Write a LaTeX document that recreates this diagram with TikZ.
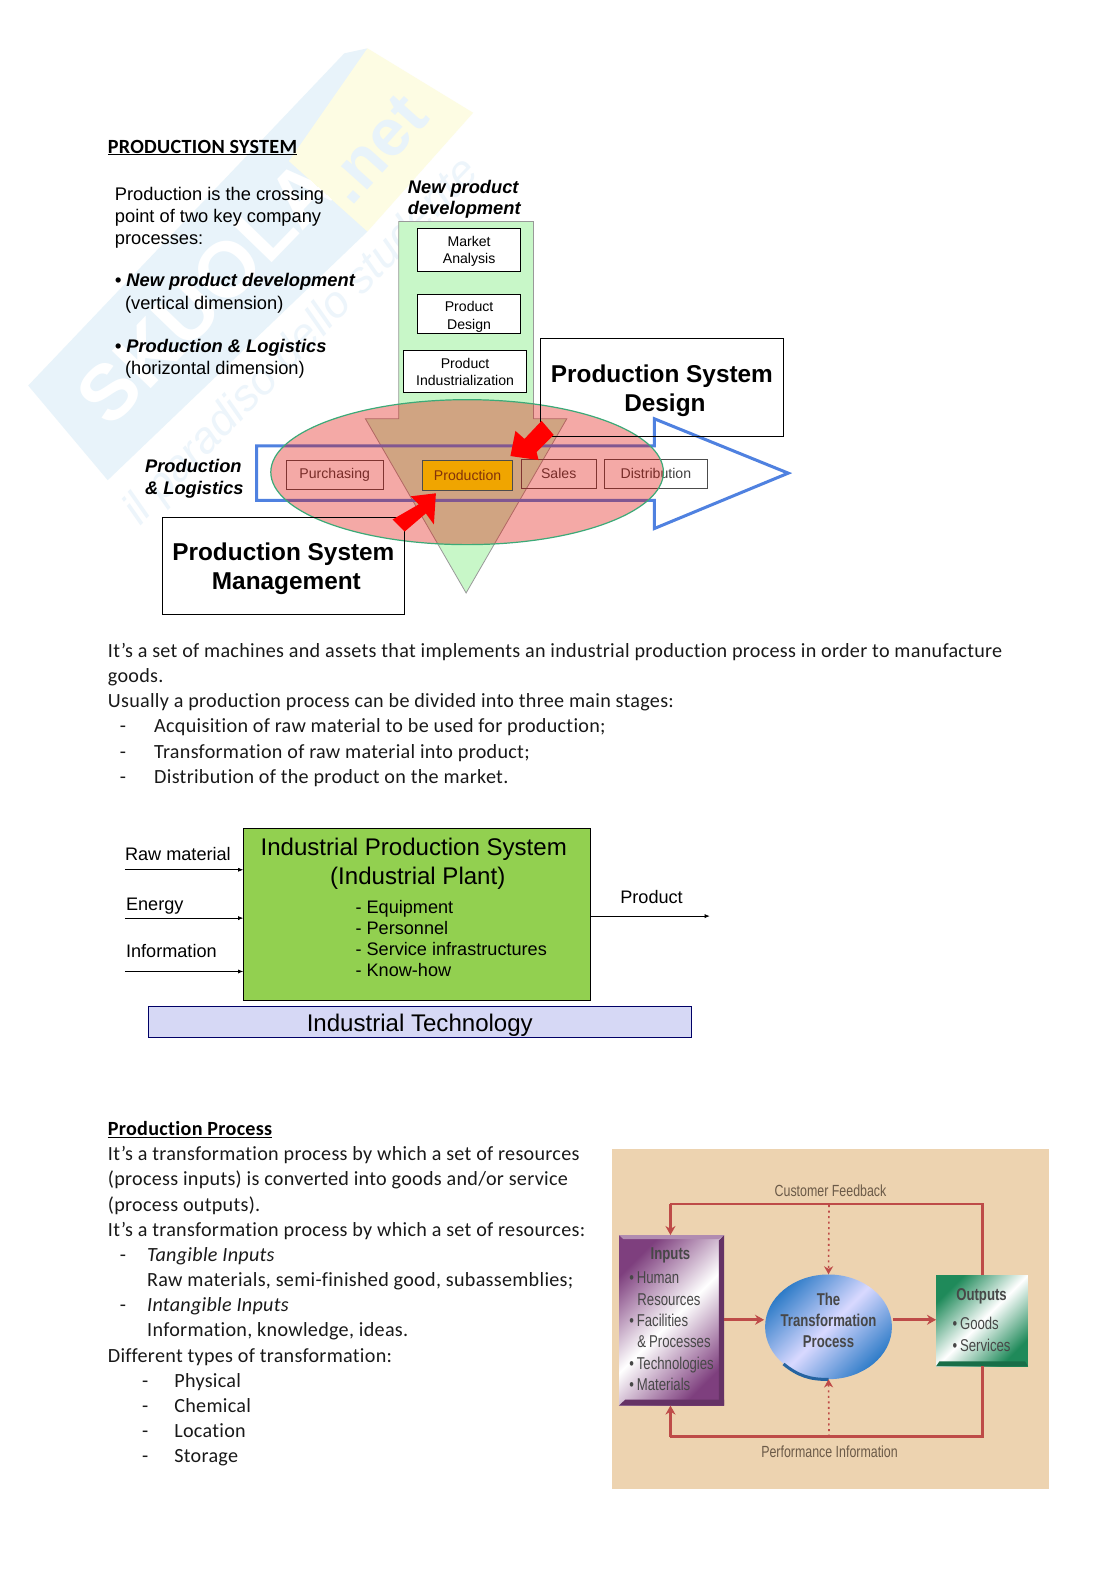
\documentclass[tikz,border=0pt]{standalone}
\usepackage{fontspec}
\setmainfont{Liberation Sans}
\newfontfamily\bodyf[LetterSpace=1.45,Ligatures=NoCommon]{Carlito}
\newfontfamily\figf[FakeStretch=.77]{Liberation Sans}
\usetikzlibrary{arrows.meta,shadings,shapes.geometric}
\definecolor{wmblue}{HTML}{E8F3FA}
\definecolor{wmyellow}{HTML}{FDFCE3}
\definecolor{greenarrow}{HTML}{C8F7C8}
\definecolor{arrowblue}{HTML}{4F81E0}
\definecolor{plantgreen}{HTML}{92D050}
\definecolor{techblue}{HTML}{D6D8F5}
\definecolor{beige}{HTML}{EDD3B0}
\definecolor{fbred}{HTML}{BE4B48}
\definecolor{fbtext}{HTML}{6B5A48}
\definecolor{inpurple}{HTML}{7E3F7E}
\definecolor{outgreen}{HTML}{1F8A5A}
\definecolor{tpblue}{HTML}{2F7CC8}
\tikzset{
 x=1pt,y=-1pt,
 body/.style={anchor=base west,inner sep=0pt,font=\bodyf\fontsize{20}{20}\selectfont,text=black!90},
 sans/.style={anchor=base west,inner sep=0pt,font=\fontsize{18.15}{18.15}\selectfont},
 ibold/.style={anchor=base west,inner sep=0pt,font=\fontsize{18.15}{18.15}\selectfont\bfseries\itshape},
 smallbox/.style={draw=black,line width=1pt,fill=white,inner sep=0pt},
 smalltext/.style={align=center,inner sep=0pt,font=\fontsize{14}{17}\selectfont},
 pbox/.style={draw=black!70,line width=.8pt,inner sep=0pt,text=black!75,font=\fontsize{14}{17}\selectfont},
 bigbox/.style={draw=black,line width=.8pt,inner sep=0pt},
 bigtext/.style={inner sep=0pt,align=center,font=\fontsize{24.2}{29}\selectfont\bfseries},
 plantlbl/.style={anchor=base west,inner sep=0pt,font=\fontsize{18}{18}\selectfont},
 inarrow/.style={draw=black,line width=.7pt,-{Latex[length=5pt,width=4pt]}},
 fb/.style={draw=fbred,line width=2.6pt},
 fbarrow/.style={fb,-{Stealth[length=9pt,width=10pt]}},
 fbdot/.style={draw=fbred,line width=1.6pt,dash pattern=on 2pt off 3.5pt,-{Stealth[length=8pt,width=9pt]}},
 fig/.style={inner sep=0pt,text=black!70,align=left},
 figlbl/.style={anchor=base west,inner sep=0pt,text=black!72,font=\figf\fontsize{17}{17}\selectfont},
 wmtext/.style={inner sep=0pt,text=white,font=\fontsize{78}{78}\selectfont\bfseries},
}
\begin{document}
\begin{tikzpicture}
\useasboundingbox (0,0) rectangle (1108.6,1568.5);
\fill[white] (0,0) rectangle (1108.6,1568.5);
% watermark
\fill[wmblue] (28,383) -- (342,53) -- (365,48) -- (365,230) -- (107,477) -- cycle;
\fill[wmyellow] (365,48) -- (470,112) -- (365,230) -- (287,160) -- cycle;
\begin{scope}
\clip (28,383) -- (342,53) -- (365,48) -- (287,160) -- (365,230) -- (107,477) -- cycle;
\node[wmtext,rotate=46] (wm1) at (205,290) {SKUOLA};
\end{scope}
\node[inner sep=0pt,text=wmblue,font=\fontsize{66}{66}\selectfont\bfseries,rotate=48] (wm2) at (373,148) {.net};
\node[inner sep=0pt,text=wmblue!80,font=\fontsize{44}{44}\selectfont\itshape,rotate=46] (wm3) at (300,340) {il paradiso dello studente};
% page title
\node[anchor=base west,inner sep=0pt,font=\bodyf\fontsize{20}{20}\selectfont\bfseries] (title) at (107,152) {\underline{PRODUCTION SYSTEM}};
% left text
\node[sans] (t1) at (114,199) {Production is the crossing};
\node[sans] (t2) at (114,221) {point of two key company};
\node[sans] (t3) at (114,243) {processes:};
\node[ibold] (t4) at (114,285) {\textbullet\ New product development};
\node[sans] (t5) at (124,307) {(vertical dimension)};
\node[ibold] (t6) at (114,350) {\textbullet\ Production \& Logistics};
\node[sans] (t7) at (124,372) {(horizontal dimension)};
\node[ibold] (npd1) at (405,192) {New product};
\node[ibold] (npd2) at (405,213) {development};
\node[ibold] (pl1) at (144,469) {Production};
\node[ibold] (pl2) at (144,491) {\& Logistics};
% green arrow
\fill[greenarrow] (396,220) -- (530,220) -- (530,416) -- (563,416) -- (463,589) -- (363,416) -- (396,416) -- cycle;
\draw[black!40,line width=.8pt] (396,416) -- (396,220) -- (530,220) -- (530,416) -- (563,416) -- (463,589) -- (363,416) -- cycle;
% boxes
\node[smallbox,minimum width=102pt,minimum height=43pt] (ma) at (466,248.5) {};
\node[smallbox,minimum width=102pt,minimum height=38pt] (pd) at (466,312) {};
\node[smallbox,minimum width=122pt,minimum height=42pt] (pi) at (462,369) {};
\node[smalltext] (mat) at (466,250) {Market\\Analysis};
\node[smalltext,font=\fontsize{14}{18}\selectfont] (pdt) at (466,315) {Product\\Design};
\node[smalltext] (pit) at (462,369.5) {Product\\Industrialization};
\node[pbox,minimum width=97pt,minimum height=29pt] (purch) at (332.5,471.5) {Purchasing};
\node[pbox,minimum width=74pt,minimum height=29pt] (sales) at (555,470.5) {Sales};
\node[pbox,minimum width=103pt,minimum height=29pt] (dist) at (651.5,470.5) {Distribution};
% blue arrow
\draw[arrowblue,line width=3pt,line join=miter] (650,443) -- (255,443) -- (255,497) -- (650,497) -- (650,525) -- (783,470) -- (650,416) -- cycle;
% ellipse
\path[fill={rgb,255:red,225;green,10;blue,0},fill opacity=.35,draw={rgb,255:red,60;green,170;blue,120},line width=1.2pt] (464,469) ellipse [x radius=195,y radius=72];
\node[pbox,fill={rgb,255:red,240;green,165;blue,0},text={rgb,255:red,130;green,50;blue,10},minimum width=89pt,minimum height=30pt] (prod) at (464.5,472) {Production};
% big boxes
\node[bigbox,minimum width=241pt,minimum height=97pt] (psd) at (657.5,384.5) {};
\node[bigbox,minimum width=241pt,minimum height=96pt] (psm) at (281.5,562) {};
\node[bigtext] (psdt) at (657.5,388) {Production System\\\hspace*{6pt}Design};
\node[bigtext] (psmt) at (281.5,565) {Production System\\\hspace*{6pt}Management};
% red arrows
\fill[red] (507,453) -- (512,428) -- (521,436) -- (538,418) -- (550,432) -- (533,449) -- (535,457) -- cycle;
\fill[red] (433,490) -- (408,493) -- (416,501) -- (390,516) -- (402,528) -- (423,510) -- (431,521) -- cycle;
% paragraph
\node[body] (p1) at (107,653) {It’s a set of machines and assets that implements an industrial production process in order to manufacture};
\node[body] (p2) at (107,678) {goods.};
\node[body] (p3) at (107,703) {Usually a production process can be divided into three main stages:};
\node[body] (p4a) at (119,728) {-};
\node[body] (p4) at (153,728) {Acquisition of raw material to be used for production;};
\node[body] (p5a) at (119,753) {-};
\node[body] (p5) at (153,753) {Transformation of raw material into product;};
\node[body] (p6a) at (119,778) {-};
\node[body] (p6) at (153,778) {Distribution of the product on the market.};
% plant
\node[draw=black,line width=.8pt,fill=plantgreen,minimum width=344pt,minimum height=171pt,inner sep=0pt] (plant) at (414,908.5) {};
\node[inner sep=0pt,align=center,font=\fontsize{23.9}{29}\selectfont] (plantt) at (411,858) {Industrial Production System\\\hspace*{8pt}(Industrial Plant)};
\node[plantlbl] (l1) at (353,907) {- Equipment};
\node[plantlbl] (l2) at (353,928) {- Personnel};
\node[plantlbl] (l3) at (353,949) {- Service infrastructures};
\node[plantlbl] (l4) at (353,970) {- Know-how};
\node[plantlbl] (rm) at (124,855) {Raw material};
\node[plantlbl] (en) at (125,904) {Energy};
\node[plantlbl] (inf) at (125,951) {Information};
\node[plantlbl] (pr) at (616,897) {Product};
\coordinate (c1) at (124,864); \coordinate (c2) at (124,912); \coordinate (c3) at (124,965); \coordinate (c4) at (705,910);
\draw[inarrow] (c1) -- (c1-|plant.west);
\draw[inarrow] (c2) -- (c2-|plant.west);
\draw[inarrow] (c3) -- (c3-|plant.west);
\draw[inarrow] (c4-|plant.east) -- (c4);
\node[draw=blue!40!black,line width=.8pt,fill=techblue,minimum width=540pt,minimum height=30pt,inner sep=0pt] (tech) at (417,1015) {};
\node[inner sep=0pt,font=\fontsize{23.9}{23.9}\selectfont] (techt) at (417,1018) {Industrial Technology};
% section 3
\node[anchor=base west,inner sep=0pt,font=\bodyf\fontsize{20}{20}\selectfont\bfseries] (pp) at (107,1128) {\underline{Production Process}};
\node[body] (q1) at (107,1153) {It’s a transformation process by which a set of resources};
\node[body] (q2) at (107,1178) {(process inputs) is converted into goods and/or service};
\node[body] (q3) at (107,1203) {(process outputs).};
\node[body] (q4) at (107,1228) {It’s a transformation process by which a set of resources:};
\node[body] (q5a) at (119,1253) {-};
\node[body] (q5) at (146,1253) {\itshape Tangible Inputs};
\node[body] (q6) at (146,1278) {Raw materials, semi-finished good, subassemblies;};
\node[body] (q7a) at (119,1303) {-};
\node[body] (q7) at (146,1303) {\itshape Intangible Inputs};
\node[body] (q8) at (146,1328) {Information, knowledge, ideas.};
\node[body] (q9) at (107,1353) {Different types of transformation:};
\node[body] (r1a) at (141,1378) {-};
\node[body] (r1) at (173,1378) {Physical};
\node[body] (r2a) at (141,1403) {-};
\node[body] (r2) at (173,1403) {Chemical};
\node[body] (r3a) at (141,1428) {-};
\node[body] (r3) at (173,1428) {Location};
\node[body] (r4a) at (141,1453) {-};
\node[body] (r4) at (173,1453) {Storage};
% transformation figure
\fill[beige] (608,1141) rectangle (1042,1479);
\node[inner sep=0pt,minimum width=104pt,minimum height=169pt,draw=none,shading=axis,left color=inpurple,right color=inpurple,middle color=white,shading angle=45] (inp) at (667,1311.5) {};
\fill[inpurple!80!black] (inp.south west) -- (inp.south east) -- ++(0,-6) -- ++(-98,0) -- cycle;
\fill[inpurple!80!black] (inp.north east) -- (inp.south east) -- ++(-5,-6) -- ++(0,-158) -- cycle;
\fill[inpurple!60] (inp.north west) -- (inp.north east) -- ++(-5,4) -- ++(-95,0) -- cycle;
\node[inner sep=0pt,minimum width=91pt,minimum height=90pt,draw=none,shading=axis,left color=outgreen,right color=outgreen,middle color=white,shading angle=45] (out) at (975.5,1312) {};
\fill[outgreen!80!black] (out.south west) -- (out.south east) -- ++(-3,-5) -- ++(-85,0) -- cycle;
\node[ellipse,minimum width=126pt,minimum height=104pt,inner sep=0pt,shading=axis,left color=tpblue,right color=tpblue,middle color=white!85!blue,shading angle=45] (tp) at (823,1318) {};
\draw[tpblue!80!black,line width=3pt] (tp.south west) to[bend right=20] (tp.south);
\draw[fb] (976,1267) |- (666,1196) coordinate (fbtl);
\draw[fb] (976,1357) |- (666,1427) coordinate (fbbl);
\draw[fbarrow] (fbtl) -- (fbtl|-inp.north);
\draw[fbarrow] (fbbl) -- (fbbl|-inp.south);
\draw[fbarrow] (inp.east|-0,1311) -- (759,1311);
\draw[fbarrow] (887,1311) -- (out.west|-0,1311);
\coordinate (dt) at (823.5,1197); \coordinate (db) at (823.5,1427);
\draw[fbdot] (dt) -- (tp.north);
\draw[fbdot] (db) -- (tp.south);
\node[fig,text=fbtext,font=\figf\fontsize{16}{16}\selectfont] (cf) at (825,1183) {Customer Feedback};
\node[fig,text=fbtext,font=\figf\fontsize{16}{16}\selectfont] (pf) at (824,1442) {Performance Information};
\node[figlbl,anchor=base] (ia) at (666,1251) {\bfseries Inputs};
\node[figlbl] (ib) at (625,1275) {\textbullet\,Human};
\node[figlbl] (ic) at (633,1297) {Resources};
\node[figlbl] (id) at (625,1318) {\textbullet\,Facilities};
\node[figlbl] (ie) at (633,1339) {\&\,Processes};
\node[figlbl] (if) at (625,1360) {\textbullet\,Technologies};
\node[figlbl] (ig) at (625,1381) {\textbullet\,Materials};
\node[figlbl,anchor=base] (oa) at (975,1292) {\bfseries Outputs};
\node[figlbl] (ob) at (946,1321) {\textbullet\,Goods};
\node[figlbl] (oc) at (946,1342) {\textbullet\,Services};
\node[figlbl,anchor=base,font=\figf\fontsize{17}{17}\selectfont\bfseries] (ta) at (823,1297) {The};
\node[figlbl,anchor=base,font=\figf\fontsize{17}{17}\selectfont\bfseries] (tb) at (823,1318) {Transformation};
\node[figlbl,anchor=base,font=\figf\fontsize{17}{17}\selectfont\bfseries] (tc) at (823,1339) {Process};
\end{tikzpicture}
\end{document}
